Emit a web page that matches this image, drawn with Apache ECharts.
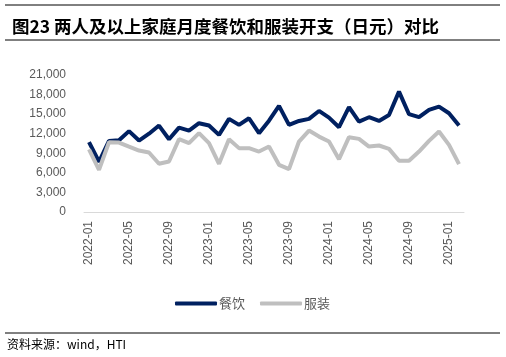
<!DOCTYPE html>
<html><head><meta charset="utf-8">
<script src="https://cdn.jsdelivr.net/npm/echarts@6/dist/echarts.min.js"></script>
<style>html,body{margin:0;padding:0;background:#fff}#c{width:506px;height:357px}</style>
</head><body><div id="c"></div>
<script>
const categories = ["2022-01","2022-02","2022-03","2022-04","2022-05","2022-06","2022-07","2022-08","2022-09","2022-10","2022-11","2022-12",
"2023-01","2023-02","2023-03","2023-04","2023-05","2023-06","2023-07","2023-08","2023-09","2023-10","2023-11","2023-12",
"2024-01","2024-02","2024-03","2024-04","2024-05","2024-06","2024-07","2024-08","2024-09","2024-10","2024-11","2024-12",
"2025-01","2025-02"];
const dining = [10700,7700,10900,11000,12400,10950,12000,13250,11160,12940,12480,13610,
13250,11820,14270,13350,14370,12080,14000,16260,13350,13960,14270,15490,
14470,13000,16060,13860,14530,13960,14880,18450,14990,14530,15650,16150,
15140,13250];
const clothing = [9600,6470,10700,10650,10030,9420,9120,7390,7740,11160,10550,12080,
10550,7390,11160,9790,9790,9270,10030,7230,6570,10800,12480,11560,
10800,8100,11470,11210,10030,10190,9680,7850,7850,9270,10900,12330,
10290,7340];
const seriesNames = ["餐饮","服装"];
const titleText = "图23 两人及以上家庭月度餐饮和服装开支（日元）对比";
const sourceText = "资料来源：wind，HTI";

const chart = echarts.init(document.getElementById('c'), null, {renderer:'canvas'});
chart.setOption({
  animation:false,
  backgroundColor:'#fff',
  title:{text:titleText,left:7,top:13,textStyle:{fontSize:17.5,fontWeight:'bold',color:'#000',fontFamily:'Noto Sans CJK SC'}},
  grid:{left:84,right:42,top:75,bottom:145,containLabel:false},
  legend:{left:170,top:292,itemWidth:42,itemHeight:4,itemGap:15,icon:'roundRect',
    textStyle:{color:'#595959',fontSize:13,fontFamily:'Noto Sans CJK SC',padding:[0,0,0,-3]},
    data:seriesNames},
  xAxis:{type:'category',data:categories,boundaryGap:true,
    axisLine:{lineStyle:{color:'#D9D9D9',width:1}},axisTick:{show:false},
    axisLabel:{interval:3,rotate:90,color:'#595959',fontSize:12,fontFamily:'Liberation Sans',margin:9}},
  yAxis:{type:'value',min:0,max:21000,interval:3000,splitLine:{show:false},
    axisLine:{show:false},axisTick:{show:false},
    axisLabel:{color:'#595959',fontSize:12,fontFamily:'Liberation Sans',margin:18,
      formatter:v=>v.toLocaleString('en-US')}},
  series:[
    {name:seriesNames[0],type:'line',data:dining,symbol:'none',lineStyle:{color:'#002060',width:4},itemStyle:{color:'#002060'}},
    {name:seriesNames[1],type:'line',data:clothing,symbol:'none',lineStyle:{color:'#BFBFBF',width:4},itemStyle:{color:'#BFBFBF'}}
  ],
  graphic:[
    {type:'line',shape:{x1:5,y1:5,x2:500,y2:5},style:{stroke:'#000',lineWidth:1}},
    {type:'line',shape:{x1:5,y1:40,x2:500,y2:40},style:{stroke:'#000',lineWidth:1}},
    {type:'line',shape:{x1:5,y1:333,x2:500,y2:333},style:{stroke:'#000',lineWidth:1}},
    {type:'text',left:7,top:338,style:{text:sourceText,fontSize:12,fill:'#000',fontFamily:'Noto Sans CJK SC'}}
  ]
});
</script></body></html>
